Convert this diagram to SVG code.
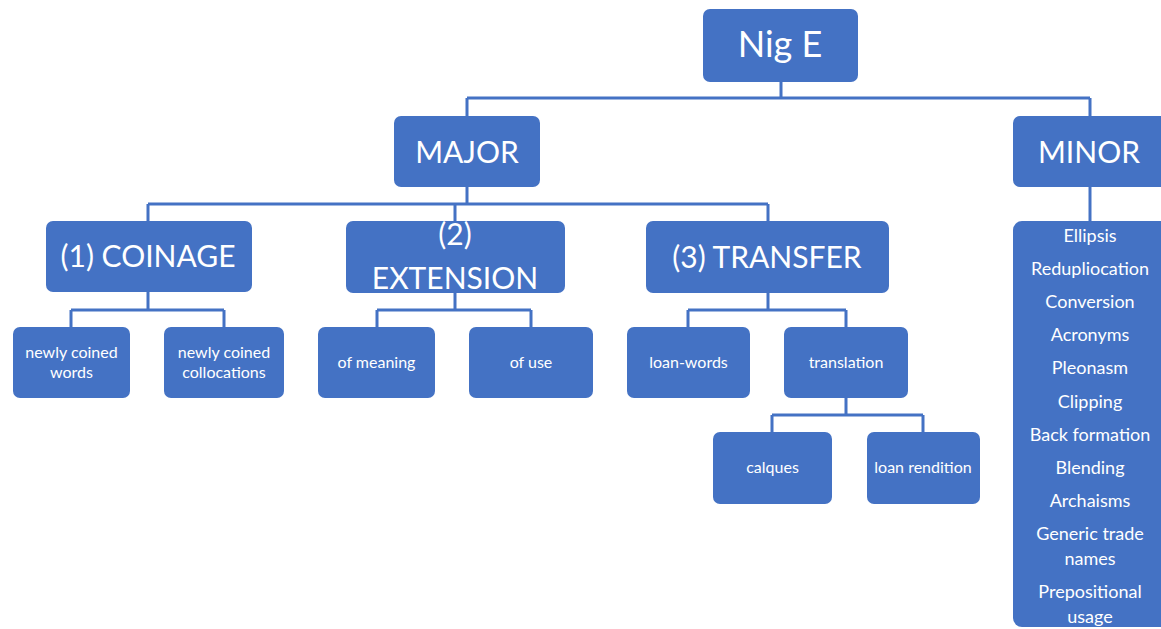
<svg xmlns="http://www.w3.org/2000/svg" width="1161" height="629" viewBox="0 0 1161 629">
<style>
.box{fill:#4472C4;}
.t{font-family:Lato,"Open Sans","Liberation Sans",sans-serif;fill:#ffffff;text-anchor:middle;}
.xl{font-size:36px;}
.lg{font-size:30px;}
.sm{font-size:16px;}
.ls{font-size:18px;}
.c{fill:none;stroke:#4472C4;stroke-width:3;}
</style>
<rect width="1161" height="629" fill="#ffffff"/>
<g id="connectors">
<path class="c" d="M781 81V98M467 98H1090M467 98V116M1090 98V116"/>
<path class="c" d="M467 187V204M148 204H768M148 204V221M455 204V221M768 204V221"/>
<path class="c" d="M148 292V310M71 310H224M71 310V327M224 310V327"/>
<path class="c" d="M455 293V310M377 310H531M377 310V327M531 310V327"/>
<path class="c" d="M768 293V310M688 310H846M688 310V327M846 310V327"/>
<path class="c" d="M846 398V415M772 415H923M772 415V432M923 415V432"/>
<path class="c" d="M1090 187V221"/>
</g>
<g id="nige"><rect class="box" x="703" y="9" width="155" height="73" rx="7"/><text class="t xl" x="780" y="57">Nig E</text></g>
<g id="major"><rect class="box" x="394" y="116" width="146" height="71" rx="7"/><text class="t lg" x="467" y="163">MAJOR</text></g>
<g id="minor"><rect class="box" x="1013" y="116" width="156" height="71" rx="7"/><text class="t lg" x="1089" y="163">MINOR</text></g>
<g id="coinage"><rect class="box" x="46" y="221" width="206" height="71" rx="7"/><text class="t lg" x="148" y="267">(1) COINAGE</text></g>
<g id="extension"><rect class="box" x="346" y="221" width="219" height="72" rx="7"/><text class="t lg" x="455" y="245">(2)</text><text class="t lg" x="455" y="289">EXTENSION</text></g>
<g id="transfer"><rect class="box" x="646" y="221" width="243" height="72" rx="7"/><text class="t lg" x="767" y="268">(3) TRANSFER</text></g>
<g id="coined-words"><rect class="box" x="13" y="327" width="117" height="71" rx="7"/><text class="t sm" x="71.5" y="358">newly coined</text><text class="t sm" x="71.5" y="378">words</text></g>
<g id="coined-collocations"><rect class="box" x="164" y="327" width="120" height="71" rx="7"/><text class="t sm" x="224" y="358">newly coined</text><text class="t sm" x="224" y="378">collocations</text></g>
<g id="of-meaning"><rect class="box" x="318" y="327" width="117" height="71" rx="7"/><text class="t sm" x="376.5" y="368">of meaning</text></g>
<g id="of-use"><rect class="box" x="469" y="327" width="124" height="71" rx="7"/><text class="t sm" x="531" y="368">of use</text></g>
<g id="loan-words"><rect class="box" x="627" y="327" width="123" height="71" rx="7"/><text class="t sm" x="688.5" y="368">loan-words</text></g>
<g id="translation"><rect class="box" x="784" y="327" width="124" height="71" rx="7"/><text class="t sm" x="846" y="368">translation</text></g>
<g id="calques"><rect class="box" x="713" y="432" width="119" height="72" rx="7"/><text class="t sm" x="772.5" y="473">calques</text></g>
<g id="loan-rendition"><rect class="box" x="867" y="432" width="113" height="72" rx="7"/><text class="t sm" x="923" y="473">loan rendition</text></g>
<g id="minor-list"><rect class="box" x="1013" y="221" width="156" height="406" rx="9"/>
<text class="t ls" x="1090" y="242">Ellipsis</text>
<text class="t ls" x="1090" y="275">Redupliocation</text>
<text class="t ls" x="1090" y="308">Conversion</text>
<text class="t ls" x="1090" y="341">Acronyms</text>
<text class="t ls" x="1090" y="374">Pleonasm</text>
<text class="t ls" x="1090" y="408">Clipping</text>
<text class="t ls" x="1090" y="441">Back formation</text>
<text class="t ls" x="1090" y="474">Blending</text>
<text class="t ls" x="1090" y="507">Archaisms</text>
<text class="t ls" x="1090" y="540">Generic trade</text>
<text class="t ls" x="1090" y="565">names</text>
<text class="t ls" x="1090" y="598">Prepositional</text>
<text class="t ls" x="1090" y="623">usage</text>
</g>
</svg>
